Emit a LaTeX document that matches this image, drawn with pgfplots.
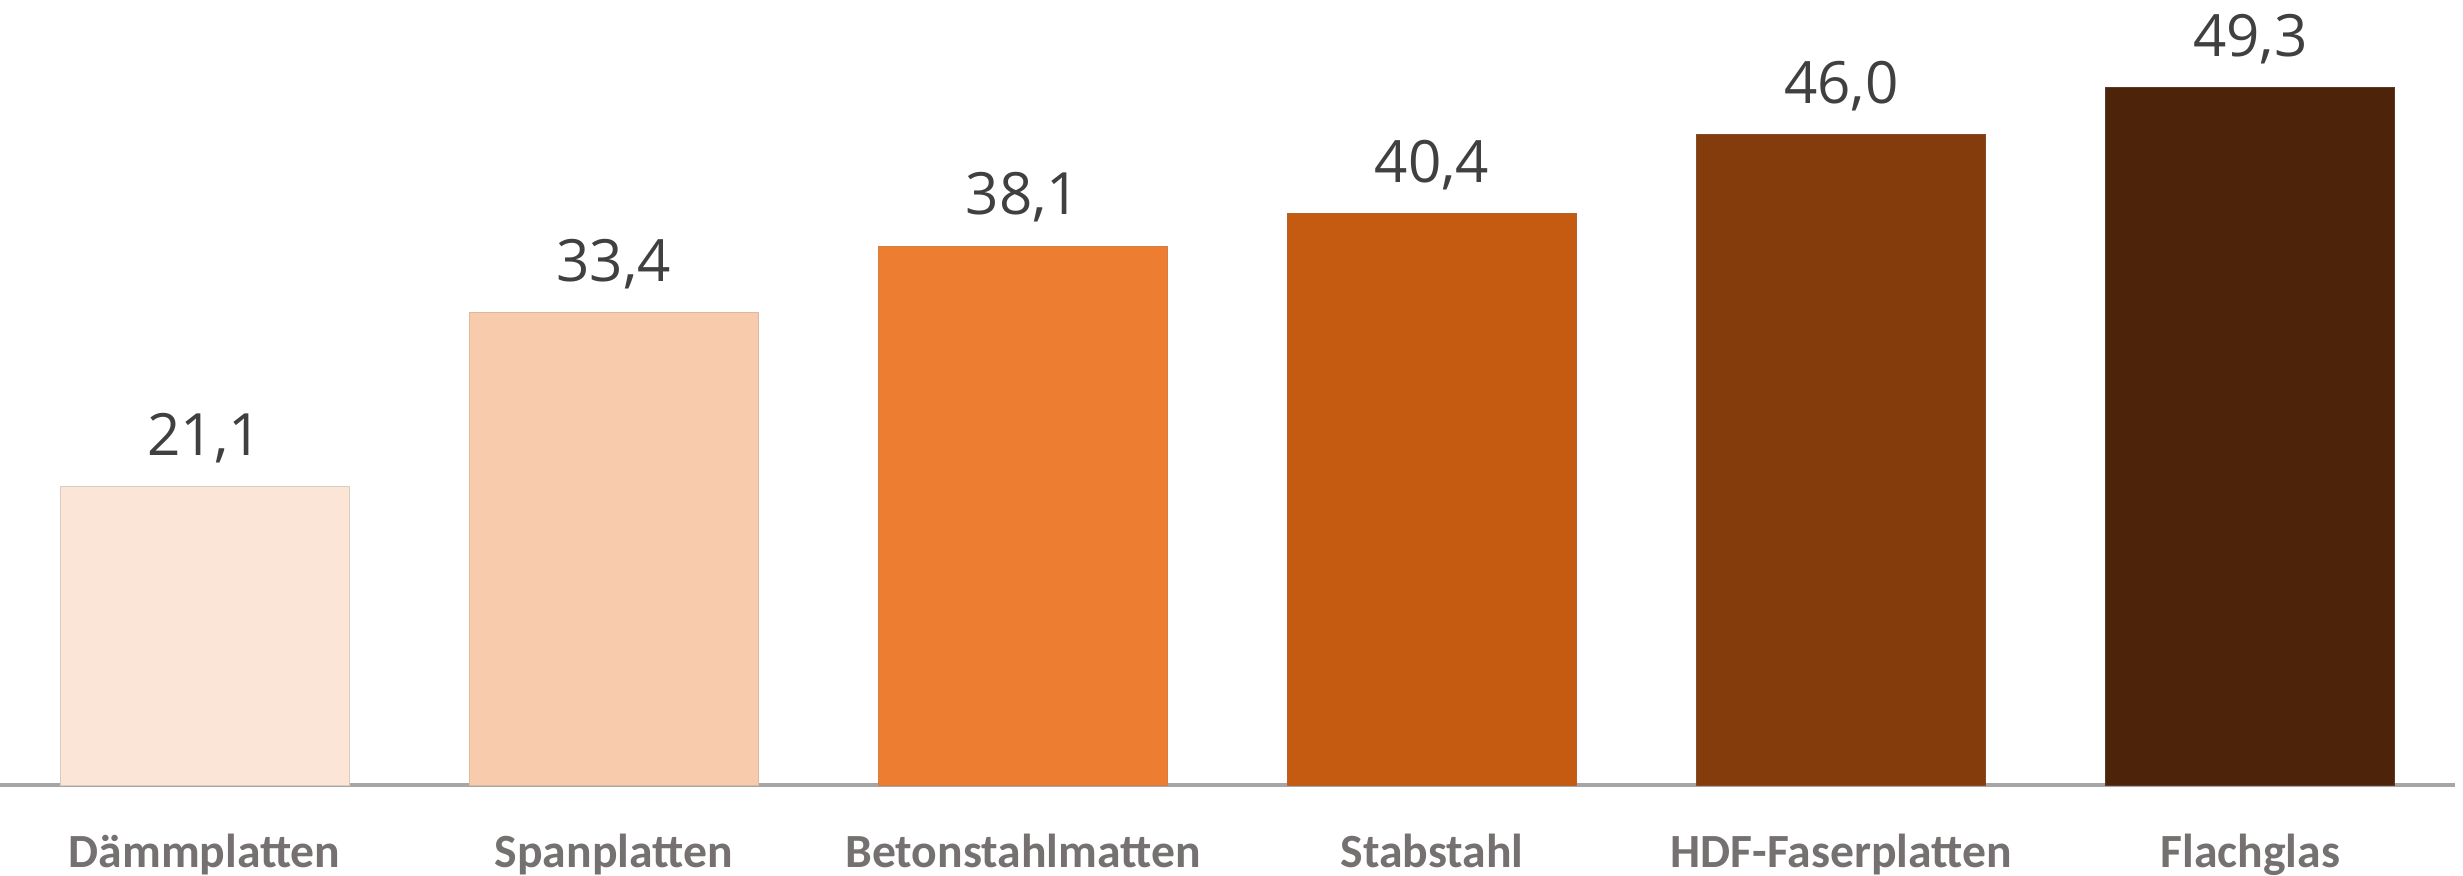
\documentclass[border=0pt]{standalone}
\usepackage{pgfplots}
\pgfplotsset{compat=1.18}
\usepackage{fontspec}
\setmainfont{Carlito}
\newfontfamily\valfont{Open Sans}
\definecolor{c1}{HTML}{FBE5D6}
\definecolor{c2}{HTML}{F8CBAD}
\definecolor{c3}{HTML}{ED7D31}
\definecolor{c4}{HTML}{C55A11}
\definecolor{c5}{HTML}{843C0C}
\definecolor{c6}{HTML}{4D2409}
\definecolor{axisgray}{HTML}{A6A6A6}
\definecolor{catgray}{HTML}{767171}
\definecolor{valgray}{HTML}{404040}
\begin{document}
\begin{tikzpicture}
\begin{axis}[
  at={(0,0)}, anchor=south west,
  scale only axis,
  width=736.5pt, height=235.5pt,
  xmin=-0.5, xmax=5.5, ymin=0, ymax=55.5,
  enlarge x limits=false,
  axis y line=none,
  axis x line*=bottom,
  x axis line style={draw=axisgray, line width=1.2pt, -},
  xtick={0,1,2,3,4,5},
  xticklabels={Dämmplatten,Spanplatten,Betonstahlmatten,Stabstahl,HDF-Faserplatten,Flachglas},
  major tick length=0pt,
  xticklabel style={font=\fontsize{14.3}{16}\selectfont\bfseries, text=catgray, anchor=base, yshift=-24.6pt},
  ybar, bar width=86.7pt, bar shift=0pt,
  nodes near coords,
  nodes near coords style={font=\valfont\fontsize{17.5}{20}\selectfont, text=valgray, anchor=base, yshift=9.4pt},
  point meta=explicit symbolic,
  clip=false,
]
\addplot[fill=c1, draw=c1!75!gray, line width=0.3pt] coordinates {(0,21.1) [21,1]};
\addplot[fill=c2, draw=c2!75!gray, line width=0.3pt] coordinates {(1,33.4) [33,4]};
\addplot[fill=c3, draw=c3!75!gray, line width=0.3pt] coordinates {(2,38.1) [38,1]};
\addplot[fill=c4, draw=c4!75!gray, line width=0.3pt] coordinates {(3,40.4) [40,4]};
\addplot[fill=c5, draw=c5!75!gray, line width=0.3pt] coordinates {(4,46.0) [46,0]};
\addplot[fill=c6, draw=c6!75!gray, line width=0.3pt] coordinates {(5,49.3) [49,3]};
\end{axis}
\pgfresetboundingbox
\path (0,-27pt) rectangle (738.9pt,235.5pt);
\end{tikzpicture}
\end{document}
